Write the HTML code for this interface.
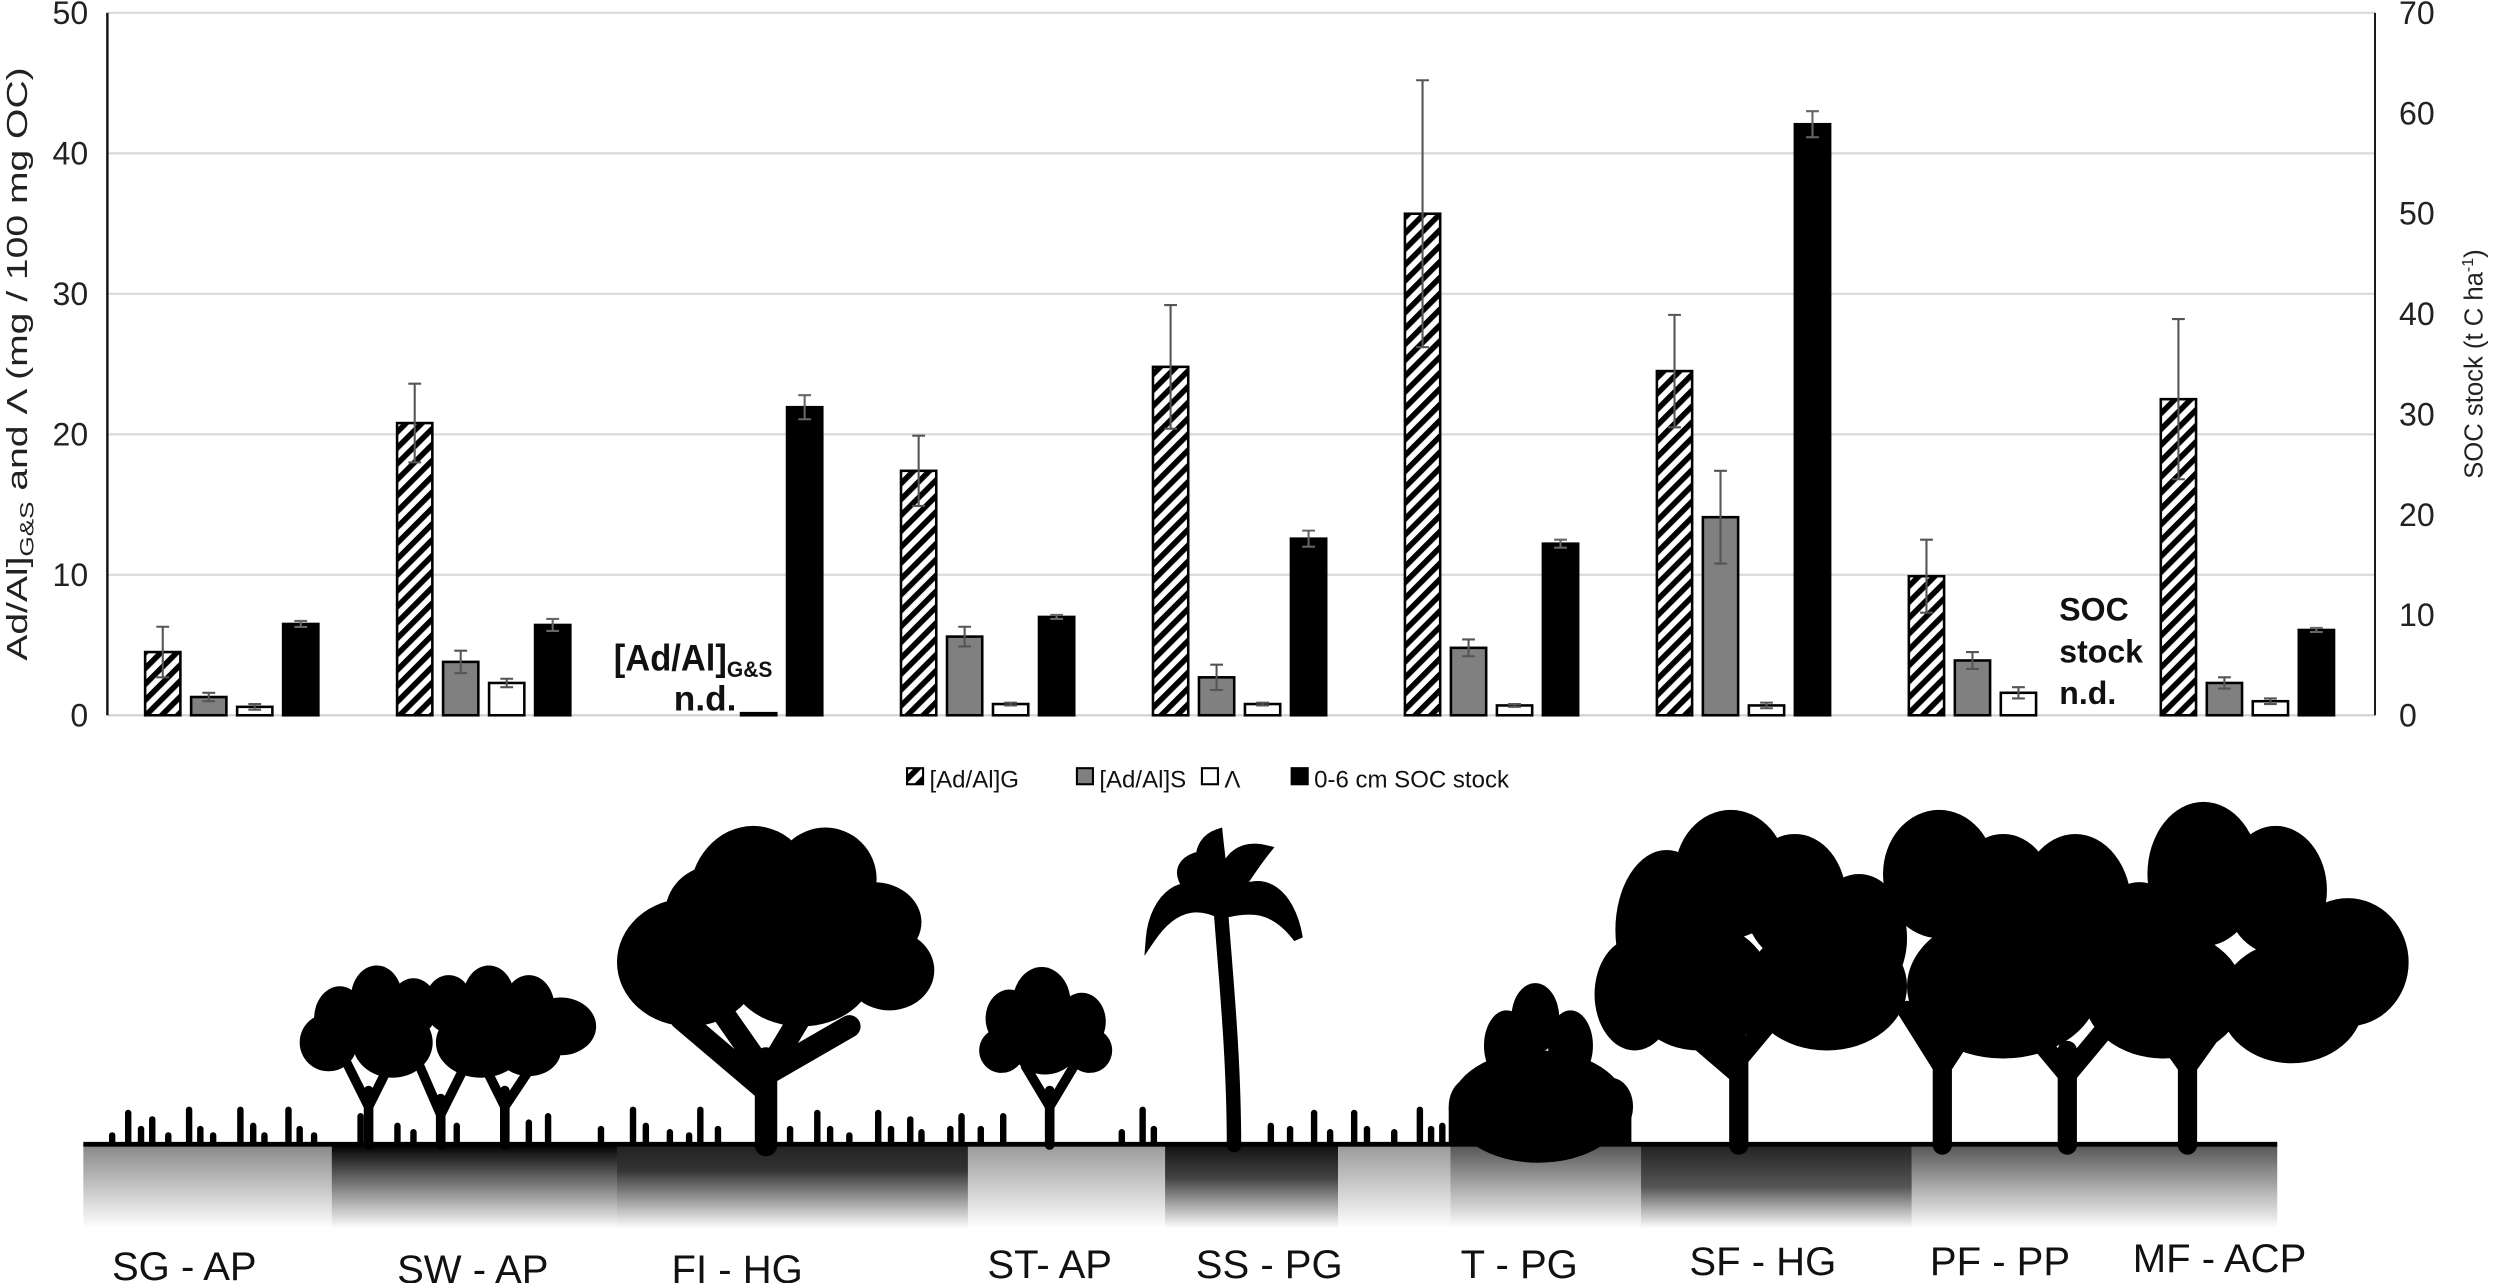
<!DOCTYPE html>
<html><head><meta charset="utf-8"><style>
html,body{margin:0;padding:0;background:#fff}
svg{display:block}
text{font-family:"Liberation Sans","DejaVu Sans",sans-serif}
</style></head><body>
<svg id="fig" width="2500" height="1283" viewBox="0 0 1560 800" preserveAspectRatio="none" xmlns="http://www.w3.org/2000/svg">
<defs>
<pattern id="hatch" patternUnits="userSpaceOnUse" width="7" height="7" patternTransform="rotate(45)">
<rect width="7" height="7" fill="#fff"/><rect width="3.5" height="7" fill="#000"/>
</pattern>
<linearGradient id="g1" x1="0" y1="0" x2="0" y2="1"><stop offset="0" stop-color="#888"/><stop offset="1" stop-color="#fff"/></linearGradient>
<linearGradient id="g2" x1="0" y1="0" x2="0" y2="1"><stop offset="0" stop-color="#000"/><stop offset="1" stop-color="#fff"/></linearGradient>
<linearGradient id="g3" x1="0" y1="0" x2="0" y2="1"><stop offset="0" stop-color="#222"/><stop offset="0.3" stop-color="#333"/><stop offset="1" stop-color="#fff"/></linearGradient>
<linearGradient id="g4" x1="0" y1="0" x2="0" y2="1"><stop offset="0" stop-color="#999"/><stop offset="1" stop-color="#fff"/></linearGradient>
<linearGradient id="g5" x1="0" y1="0" x2="0" y2="1"><stop offset="0" stop-color="#111"/><stop offset="0.4" stop-color="#444"/><stop offset="1" stop-color="#fff"/></linearGradient>
<linearGradient id="g6" x1="0" y1="0" x2="0" y2="1"><stop offset="0" stop-color="#555"/><stop offset="1" stop-color="#fff"/></linearGradient>
<linearGradient id="g7" x1="0" y1="0" x2="0" y2="1"><stop offset="0" stop-color="#222"/><stop offset="0.5" stop-color="#555"/><stop offset="1" stop-color="#fff"/></linearGradient>
</defs>
<g id="gridG"></g>
<g id="barsG"></g>
<g id="axesG"></g>
<text transform="translate(17,227) rotate(-90)" text-anchor="middle" font-size="18" fill="#222" textLength="370" lengthAdjust="spacingAndGlyphs">Ad/Al]<tspan font-size="12" dy="4">G&amp;S</tspan><tspan dy="-4"> and Λ (mg / 100 mg OC)</tspan></text>
<text transform="translate(1549,227) rotate(-90)" text-anchor="middle" font-size="16" fill="#222">SOC stock (t C ha<tspan font-size="10" dy="-6">-1</tspan><tspan dy="6">)</tspan></text>
<g font-weight="bold" fill="#111">
<text x="383" y="418" font-size="23" textLength="99" lengthAdjust="spacingAndGlyphs">[Ad/Al]<tspan font-size="14" dy="4">G&amp;S</tspan></text>
<text x="440" y="443" font-size="22" text-anchor="middle">n.d.</text>
</g>
<g font-weight="bold" font-size="20" fill="#111">
<text x="1285" y="387">SOC</text>
<text x="1285" y="413">stock</text>
<text x="1285" y="439">n.d.</text>
</g>
<g id="legendG" font-size="15" fill="#111"></g>
<g id="scene"></g>
<g font-size="25" fill="#111" text-anchor="middle">
<text x="115" y="798">SG - AP</text>
<text x="295" y="800">SW - AP</text>
<text x="460" y="800">FI - HG</text>
<text x="655" y="797">ST- AP</text>
<text x="792" y="797">SS - PG</text>
<text x="948" y="797">T -  PG</text>
<text x="1100" y="795">SF - HG</text>
<text x="1248" y="795">PF - PP</text>
<text x="1385" y="793">MF - ACP</text>
</g>
</svg>
<script>
const sites = ["SG-AP","SW-AP","FI-HG","ST-AP","SS-PG","T-PG","SF-HG","PF-PP","MF-ACP"];
const adalG = [4.5,20.8,null,17.4,24.8,35.7,24.5,9.9,22.5];
const adalGErr = [1.8,2.8,0,2.5,4.4,9.5,4.0,2.6,5.7];
const adalS = [1.3,3.8,null,5.6,2.7,4.8,14.1,3.9,2.3];
const adalSErr = [0.3,0.8,0,0.7,0.9,0.6,3.3,0.6,0.4];
const lambda = [0.6,2.3,0.15,0.8,0.8,0.7,0.7,1.6,1.0];
const lambdaErr = [0.2,0.3,0,0.1,0.1,0.1,0.2,0.4,0.2];
const socStock = [9.1,9.0,30.7,9.8,17.6,17.1,58.9,null,8.5];
const socStockErr = [0.3,0.6,1.2,0.2,0.8,0.4,1.3,0,0.2];
const leftTicks = [0,10,20,30,40,50];
const rightTicks = [0,10,20,30,40,50,60,70];

const NS="http://www.w3.org/2000/svg";
const X0=67,X1=1482,YT=8,YB=446;
const yL=v=>YB-(v/50)*(YB-YT);
const yR=v=>YB-(v/70)*(YB-YT);
const gw=(X1-X0)/sites.length;
const barX=(g,i)=>X0+gw*g+gw/2+(i-1.5)*28.7-1;
function mk(tag,attrs,parent){const e=document.createElementNS(NS,tag);for(const k in attrs)e.setAttribute(k,attrs[k]);parent.appendChild(e);return e;}
const grid=document.getElementById('gridG'),bars=document.getElementById('barsG'),axes=document.getElementById('axesG');
leftTicks.forEach(t=>{
  if(t>0){const l=mk('line',{x1:X0,x2:X1,y1:yL(t),y2:yL(t),stroke:'#d9d9d9','stroke-width':1.3},grid);
  
  }
  const tx=mk('text',{x:55,y:yL(t)+7,'text-anchor':'end','font-size':20,fill:'#222'},axes);tx.textContent=t;
  
  
});
rightTicks.forEach(t=>{
  const tx=mk('text',{x:1497,y:yR(t)+7,'font-size':20,fill:'#222'},axes);tx.textContent=t;
  
  
});
const la=mk('line',{x1:X0,x2:X0,y1:YT,y2:YB,stroke:'#111','stroke-width':1.5},axes);


const ra=mk('line',{x1:X1,x2:X1,y1:YT,y2:YB,stroke:'#111','stroke-width':1.2},axes);


const xa=mk('line',{x1:X0,x2:X1,y1:YB,y2:YB,stroke:'#d0d0d0','stroke-width':1.3},grid);



const series=[
 {vals:adalG,errs:adalGErr,fill:'url(#hatch)',sc:yL,name:'bar-adal-g'},
 {vals:adalS,errs:adalSErr,fill:'#808080',sc:yL,name:'bar-adal-s'},
 {vals:lambda,errs:lambdaErr,fill:'#fff',sc:yL,name:'bar-lambda'},
 {vals:socStock,errs:socStockErr,fill:'#000',sc:yR,name:'bar-soc-stock'}];
const BW=22;
series.forEach((s,i)=>{
  s.vals.forEach((v,g)=>{
    if(v===null)return;
    const cx=barX(g,i),y=s.sc(v);
    const r=mk('rect',{x:cx-BW/2,y:y,width:BW,height:Math.max(YB-y,1),fill:s.fill,stroke:'#000','stroke-width':1.6},bars);
    
    
    const e=s.errs[g];
    if(e>0){
      const y1=s.sc(v+e),y2=s.sc(v-e),col=i===3?'#666':'#555';
      const eb=mk('path',{d:`M${cx},${y1}V${y2}M${cx-4},${y1}H${cx+4}M${cx-4},${y2}H${cx+4}`,stroke:col,'stroke-width':1.3,fill:'none'},bars);
      
      
    }
  });
});
// legend
const leg=document.getElementById('legendG');
const legItems=[['url(#hatch)','[Ad/Al]G',566],['#808080','[Ad/Al]S',672],['#fff','Λ',750],['#000','0-6 cm SOC stock',806]];
legItems.forEach(it=>{
  const b=mk('rect',{x:it[2],y:479,width:10,height:10,fill:it[0],stroke:'#000','stroke-width':1.3},leg);
  
  
  const t=mk('text',{x:it[2]+14,y:491},leg);t.textContent=it[1];
  
  
});
// landscape
const sc=document.getElementById('scene');
const segs=[[52,207,'url(#g1)'],[207,385,'url(#g2)'],[385,604,'url(#g3)'],[604,727,'url(#g4)'],[727,835,'url(#g5)'],[835,905,'url(#g4)'],[905,1024,'url(#g6)'],[1024,1193,'url(#g7)'],[1193,1421,'url(#g6)']];
segs.forEach(s=>{const r=mk('rect',{x:s[0],y:714,width:s[1]-s[0],height:52,fill:s[2]},sc);
  
  });
const gl=mk('rect',{x:52,y:712,width:1369,height:3,fill:'#000'},sc);


// grass
const grass=[[70,8],[80,22],[88,12],[95,18],[105,8],[118,24],[125,12],[133,8],[150,24],[158,14],[165,8],[180,24],[187,12],[196,8],[225,20],[248,14],[258,10],[285,14],[330,16],[342,20],[375,12],[395,24],[403,14],[418,10],[430,8],[437,24],[448,12],[493,12],[510,22],[518,12],[530,8],[548,22],[556,12],[568,18],[575,10],[593,12],[600,20],[612,12],[626,20],[700,10],[713,24],[720,12],[793,14],[805,12],[820,22],[830,10],[845,22],[853,12],[870,10],[886,24],[893,12],[900,14]];
grass.forEach(g=>{const r=mk('rect',{x:g[0]-2,y:714-g[1],width:4,height:g[1],rx:2,fill:'#000'},sc);
  
  });
function crown(list,name){list.forEach(c=>{const e=mk('ellipse',{cx:c[0],cy:c[1],rx:c[2],ry:c[3]||c[2],fill:'#000'},sc);
  
  });}
function trunk(d,w,name){const p=mk('path',{d:d,stroke:'#000','stroke-width':w,fill:'none','stroke-linecap':'round'},sc);
  
  }
crown([[212,635,16,20],[235,622,16,20],[258,628,15,18],[280,626,15,18],[305,622,16,20],[330,628,16,20],[350,640,22,18],[205,650,18,18],[245,650,25,22],[300,650,28,22],[330,655,20,16]],'sw-tree-crown');
trunk('M230,714V680M230,690L215,660M230,690L245,660M275,714V685M275,695L262,665M275,695L290,665M315,714V680M315,690L300,660M315,690L335,660',6,'sw-tree-trunk');
crown([[430,600,45,40],[470,560,40,45],[515,548,32,32],[545,575,30,25],[555,605,28,25],[500,605,45,35],[445,570,30,30]],'fi-tree-crown');
trunk('M478,714V660M478,670L450,630M478,670L505,625M478,670L530,640M478,680L425,635',14,'fi-tree-trunk');
crown([[630,635,15,18],[650,625,18,22],[675,637,15,18],[625,655,14,14],[680,655,14,14],[652,650,22,20]],'st-tree-crown');
trunk('M655,714V680M655,690L640,665M655,690L670,665',6,'st-tree-trunk');
trunk('M770,714C770,660 765,610 762,570',9,'palm-trunk');
[['M762,565C740,540 720,560 718,585C735,560 752,565 762,570'],['M762,565C785,540 805,555 810,585C795,565 780,565 762,570'],['M762,565C745,545 745,525 760,520C762,540 765,555 762,570'],['M762,565C760,540 770,525 790,530C778,545 770,560 762,570'],['M760,565C735,555 732,540 745,535C752,545 758,555 760,565']].forEach(p=>{
  const e=mk('path',{d:p[0],fill:'#000',stroke:'#000','stroke-width':6},sc);
  
  });
crown([[918,690,14,18],[940,652,14,22],[958,635,15,22],[980,652,14,22],[1005,690,14,18],[960,690,55,35]],'shrub-crown');
const sr=mk('rect',{x:904,y:690,width:114,height:24,fill:'#000'},sc);


crown([[1040,580,32,50],[1080,545,35,40],[1120,560,32,40],[1160,585,30,40],[1210,545,35,40],[1250,560,32,40],[1295,565,35,45],[1335,590,28,40],[1375,545,35,45],[1420,555,32,40],[1465,600,38,40],[1060,615,45,40],[1140,615,50,40],[1250,615,60,45],[1350,620,50,40],[1430,625,45,38],[1020,620,25,35]],'forest-crown');
trunk('M1085,714V650M1085,660L1060,630M1085,660L1110,630M1085,670L1050,640',12,'forest-trunk');
trunk('M1212,714V650M1212,665L1190,630M1212,665L1235,630',12,'forest-trunk');
trunk('M1290,714V655M1290,670L1265,640M1290,670L1315,640',12,'forest-trunk');
trunk('M1365,714V650M1365,665L1340,630M1365,665L1390,630',12,'forest-trunk');
</script>
</body></html>
